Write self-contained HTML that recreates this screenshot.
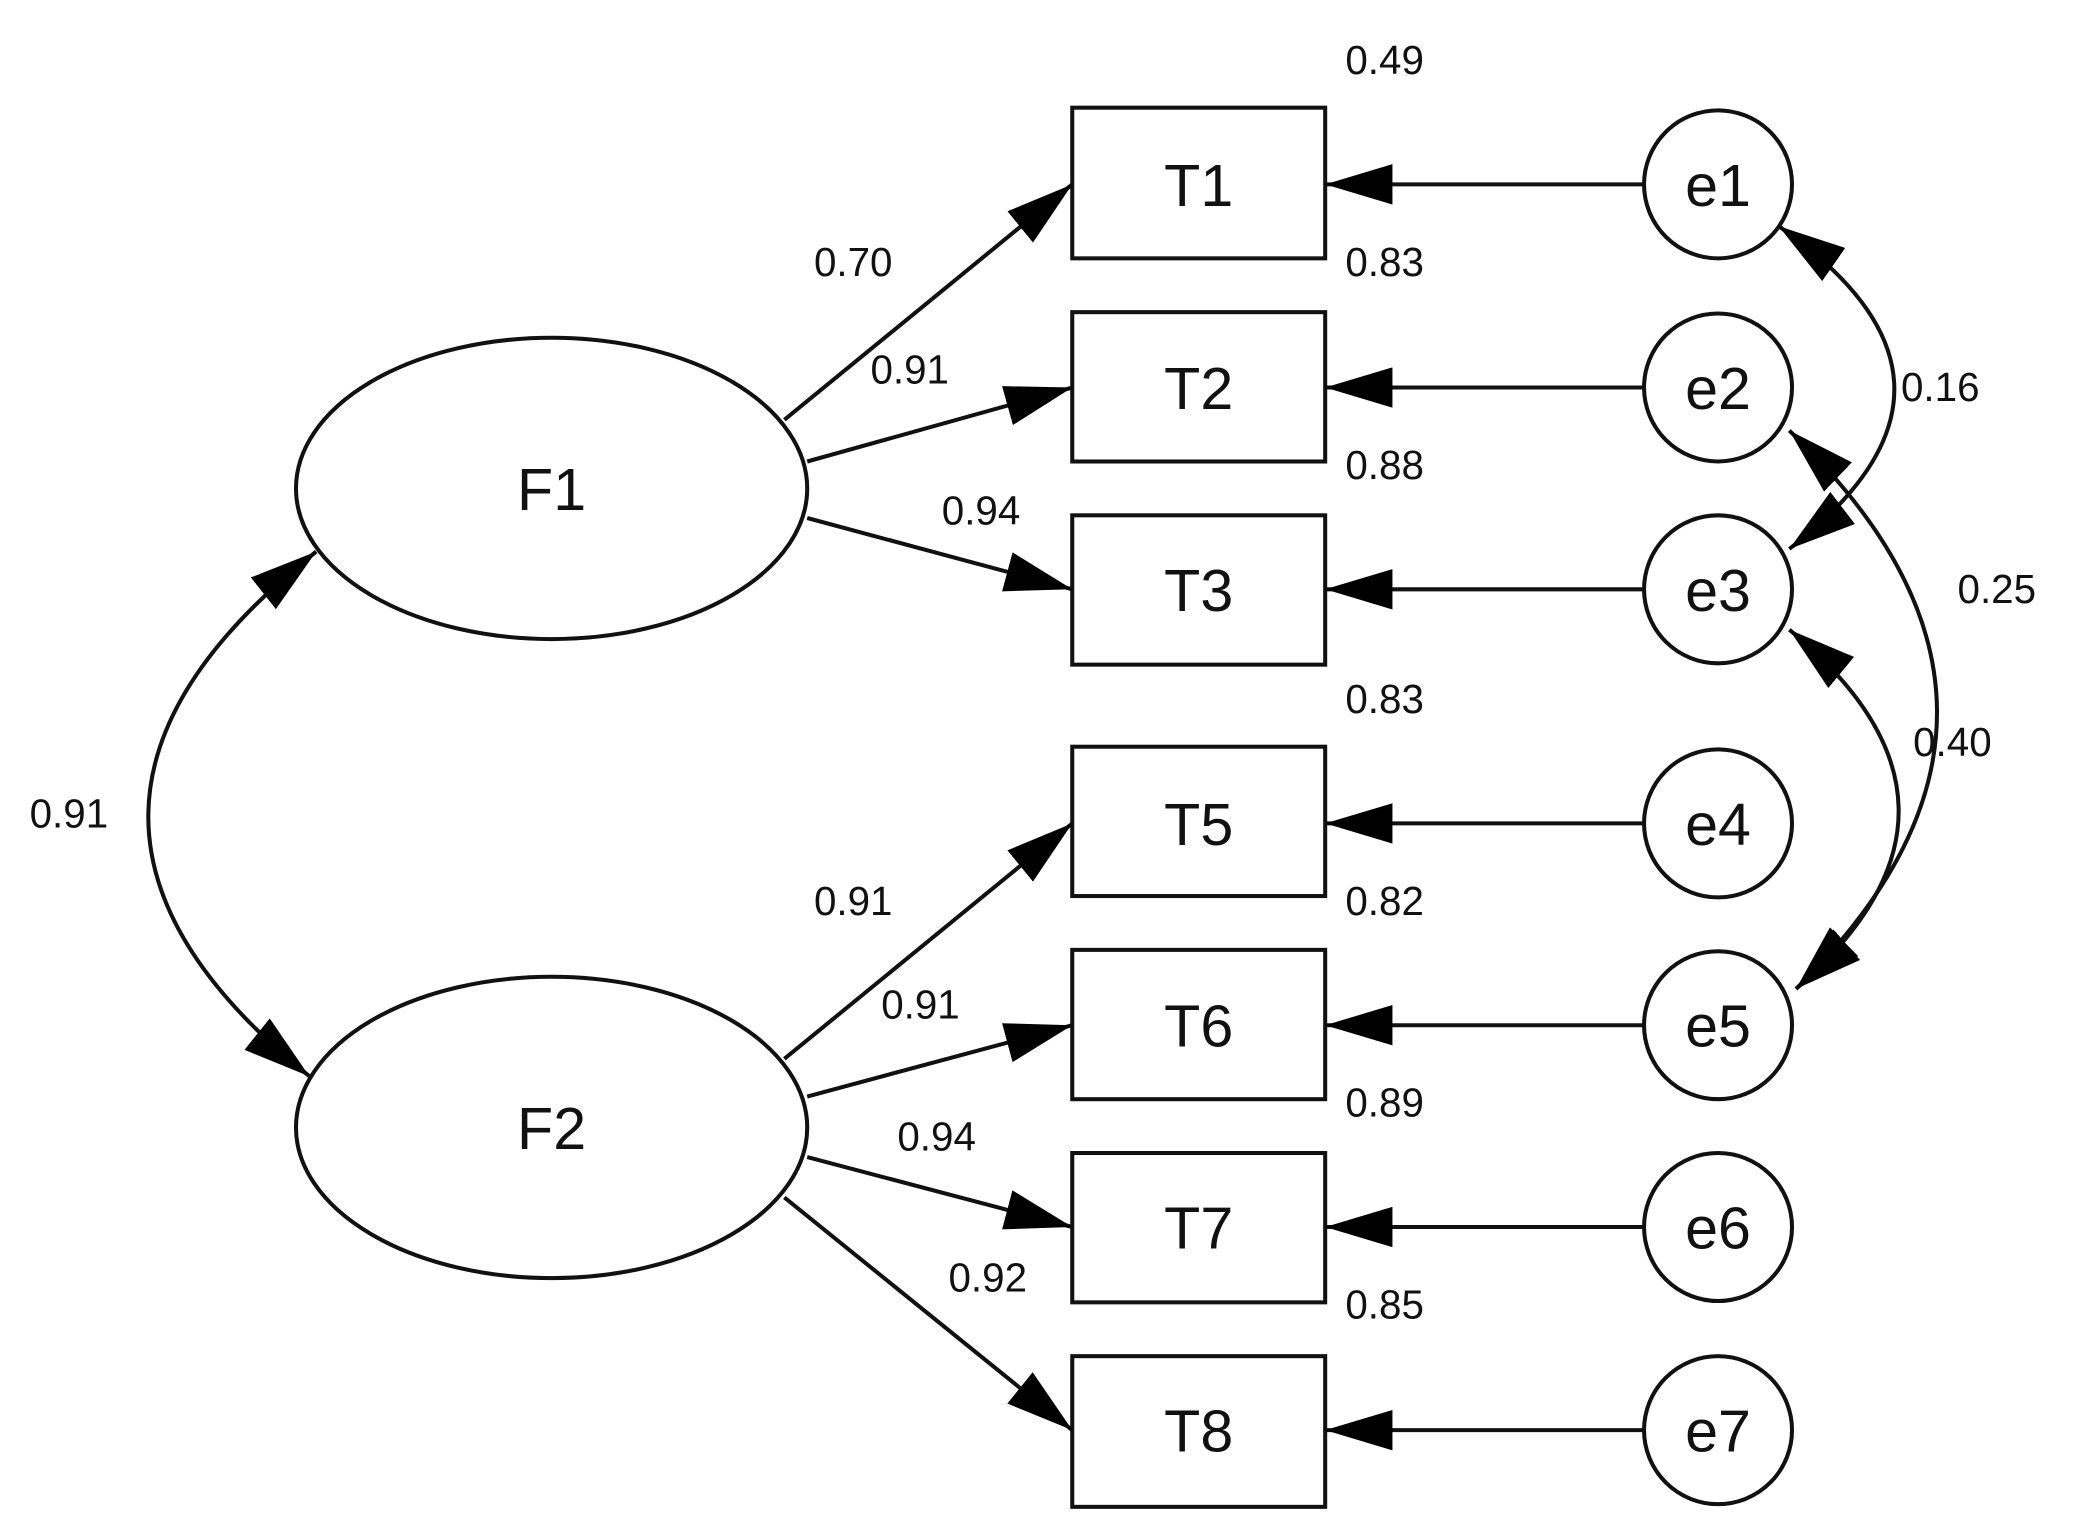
<!DOCTYPE html>
<html><head><meta charset="utf-8"><style>
html,body{margin:0;padding:0;background:#fff;}
svg{display:block}
text{font-family:"Liberation Sans",Arial,sans-serif;fill:#111}
.n{font-size:44px}
.l{font-size:30px}
</style></head><body>
<svg width="2088" height="1519" viewBox="0 0 1552 1129" xmlns="http://www.w3.org/2000/svg">
<defs>
<marker id="a" viewBox="0 0 10 10" refX="10" refY="5" markerWidth="16" markerHeight="16" markerUnits="userSpaceOnUse" orient="auto-start-reverse">
<path d="M0,1 L10,5 L0,9 Z" fill="#000"/></marker>
<marker id="b" viewBox="0 0 50 30" refX="50" refY="15" markerWidth="50" markerHeight="30" markerUnits="userSpaceOnUse" orient="auto-start-reverse">
<path d="M0,0 L50,15 L0,30 Z" fill="#000"/></marker>
</defs>
<g fill="#fff" stroke="#111" stroke-width="3">
<ellipse cx="410" cy="363" rx="190" ry="112"/>
<ellipse cx="410" cy="838" rx="190" ry="112"/>
<rect x="797" y="80" width="188" height="112"/>
<rect x="797" y="232" width="188" height="111"/>
<rect x="797" y="383" width="188" height="111"/>
<rect x="797" y="555" width="188" height="111"/>
<rect x="797" y="706" width="188" height="111"/>
<rect x="797" y="857" width="188" height="111"/>
<rect x="797" y="1008" width="188" height="112"/>
<circle cx="1277" cy="137" r="55"/>
<circle cx="1277" cy="288" r="55"/>
<circle cx="1277" cy="438" r="55"/>
<circle cx="1277" cy="612" r="55"/>
<circle cx="1277" cy="762" r="55"/>
<circle cx="1277" cy="912" r="55"/>
<circle cx="1277" cy="1063" r="55"/>
</g>
<g stroke="#111" stroke-width="3" fill="none" marker-end="url(#b)">
<line x1="583" y1="312" x2="797" y2="137"/>
<line x1="600" y1="343" x2="797" y2="288"/>
<line x1="600" y1="385" x2="797" y2="438"/>
<line x1="583" y1="787" x2="797" y2="612"/>
<line x1="600" y1="815" x2="797" y2="762"/>
<line x1="600" y1="860" x2="797" y2="912"/>
<line x1="583" y1="890" x2="797" y2="1063"/>
<line x1="1222" y1="137" x2="985" y2="137"/>
<line x1="1222" y1="288" x2="985" y2="288"/>
<line x1="1222" y1="438" x2="985" y2="438"/>
<line x1="1222" y1="612" x2="985" y2="612"/>
<line x1="1222" y1="762" x2="985" y2="762"/>
<line x1="1222" y1="912" x2="985" y2="912"/>
<line x1="1222" y1="1063" x2="985" y2="1063"/>
</g>
<g stroke="#111" stroke-width="3" fill="none" marker-start="url(#b)" marker-end="url(#b)">
<path d="M1322,168 Q1490,285 1330,408"/>
<path d="M1330,320 Q1547,527 1335,735"/>
<path d="M1330,468 Q1490,600 1335,735"/>
<path d="M235,410 Q-12,605 230,800"/>
</g>
<g class="n" text-anchor="middle">
<text x="410" y="379">F1</text>
<text x="410" y="854">F2</text>
<text x="891" y="153">T1</text>
<text x="891" y="304">T2</text>
<text x="891" y="454">T3</text>
<text x="891" y="628">T5</text>
<text x="891" y="778">T6</text>
<text x="891" y="928">T7</text>
<text x="891" y="1079">T8</text>
<text x="1277" y="153">e1</text>
<text x="1277" y="304">e2</text>
<text x="1277" y="454">e3</text>
<text x="1277" y="628">e4</text>
<text x="1277" y="778">e5</text>
<text x="1277" y="928">e6</text>
<text x="1277" y="1079">e7</text>
</g>
<g class="l">
<text x="1000" y="55">0.49</text>
<text x="1000" y="205">0.83</text>
<text x="1000" y="356">0.88</text>
<text x="1000" y="530">0.83</text>
<text x="1000" y="680">0.82</text>
<text x="1000" y="830">0.89</text>
<text x="1000" y="980">0.85</text>
<text x="605" y="205">0.70</text>
<text x="647" y="285">0.91</text>
<text x="700" y="390">0.94</text>
<text x="605" y="680">0.91</text>
<text x="655" y="757">0.91</text>
<text x="667" y="855">0.94</text>
<text x="705" y="960">0.92</text>
<text x="22" y="615">0.91</text>
<text x="1413" y="298">0.16</text>
<text x="1455" y="448">0.25</text>
<text x="1422" y="562">0.40</text>
</g>
</svg>
</body></html>
